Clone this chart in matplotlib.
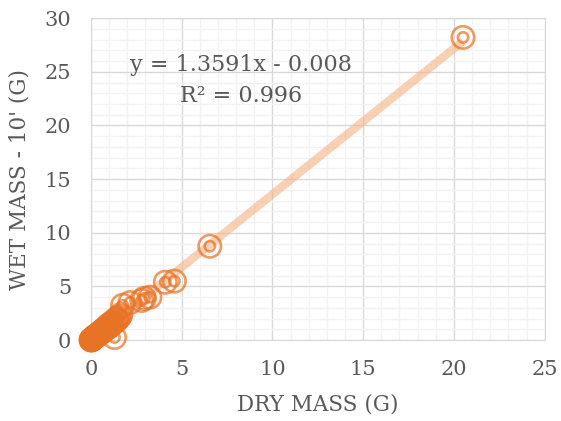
import matplotlib
matplotlib.use("Agg")
import matplotlib.pyplot as plt
import numpy as np
from matplotlib.ticker import MultipleLocator

dry_mass = [20.5, 6.55, 4.6, 4.1, 3.25, 2.95, 2.8, 2.15, 1.75, 1.6, 1.45,
            1.3, 1.35, 1.2, 1.1, 1.0, 0.95, 0.9, 0.85, 0.8, 0.75, 0.7, 0.65,
            0.6, 0.55, 0.5, 0.45, 0.4, 0.35, 0.3, 0.28, 0.25, 0.22, 0.2,
            0.18, 0.15, 0.12, 0.1, 0.08, 0.06, 0.05, 0.04, 0.03, 0.02, 0.01,
            1.25, 1.05, 0.98, 0.88, 0.78, 0.68, 0.58, 0.48, 0.38, 0.32,
            1.5, 1.4, 1.15, 1.65]
wet_mass = [28.2, 8.75, 5.5, 5.4, 4.0, 3.9, 3.7, 3.5, 3.25, 2.2, 1.9,
            0.25, 1.8, 1.7, 1.5, 1.35, 1.4, 1.2, 1.15, 1.1, 1.0, 0.95, 0.9,
            0.8, 0.75, 0.7, 0.6, 0.55, 0.5, 0.4, 0.38, 0.35, 0.3, 0.28,
            0.25, 0.2, 0.17, 0.14, 0.1, 0.08, 0.07, 0.05, 0.04, 0.03, 0.01,
            1.6, 1.3, 1.25, 1.1, 1.05, 0.85, 0.75, 0.6, 0.5, 0.45,
            2.05, 2.0, 1.6, 2.4]
slope = 1.3591
intercept = -0.008
eq_text = "y = 1.3591x - 0.008"
r2_text = "R² = 0.996"
x_label = "DRY MASS (G)"
y_label = "WET MASS - 10' (G)"

plt.rcParams['font.family'] = ['DejaVu Serif']
text_color = '#595959'
orange = '#E97325'

fig = plt.figure(figsize=(5.61, 4.21), dpi=100)
ax = fig.add_axes([0.162, 0.192, 0.809, 0.765])

ax.set_xlim(0, 25)
ax.set_ylim(0, 30)
ax.xaxis.set_major_locator(MultipleLocator(5))
ax.yaxis.set_major_locator(MultipleLocator(5))
ax.xaxis.set_minor_locator(MultipleLocator(1))
ax.yaxis.set_minor_locator(MultipleLocator(1))
ax.grid(which='minor', color='#F2F2F2', linewidth=1.0, zorder=0)
ax.grid(which='major', color='#D9D9D9', linewidth=1.0, zorder=0)
ax.set_axisbelow(True)
for s in ax.spines.values():
    s.set_color('#D9D9D9')
ax.tick_params(which='both', length=0, labelsize=15, colors=text_color)
ax.tick_params(axis='x', pad=14)
ax.tick_params(axis='y', pad=14)

xs = np.array([min(dry_mass), max(dry_mass)])
ax.plot(xs, slope * xs + intercept, color='#F4B183', linewidth=6,
        alpha=0.6, solid_capstyle='butt', zorder=2)

ax.scatter(dry_mass, wet_mass, s=260, facecolors='none', edgecolors=orange,
           linewidths=1.9, alpha=0.72, zorder=3, clip_on=False)
ax.scatter(dry_mass, wet_mass, s=55, facecolors='none', edgecolors=orange,
           linewidths=1.9, alpha=0.72, zorder=3, clip_on=False)

ax.text(0.33, 0.855, eq_text, transform=ax.transAxes, ha='center', va='center',
        fontsize=16, color=text_color)
ax.text(0.33, 0.757, r2_text, transform=ax.transAxes, ha='center', va='center',
        fontsize=16, color=text_color)

ax.set_xlabel(x_label, fontsize=15.5, color=text_color, labelpad=11)
ax.set_ylabel(y_label, fontsize=15.5, color=text_color, labelpad=10)

fig.savefig("out.png", dpi=100)
